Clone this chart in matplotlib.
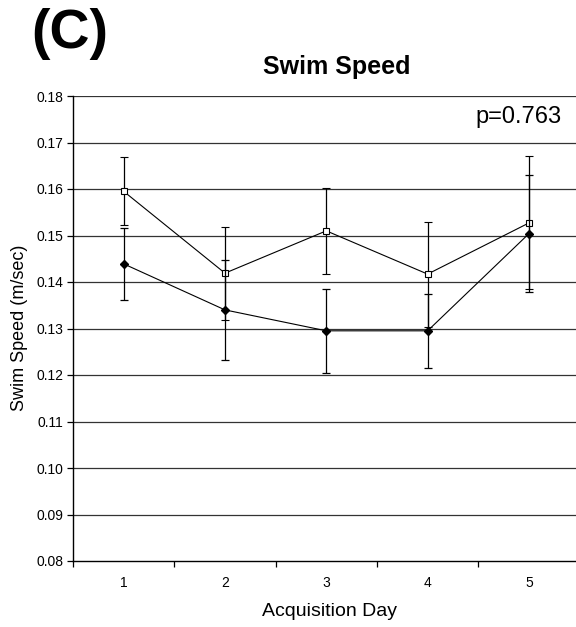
import matplotlib
matplotlib.use("Agg")
import matplotlib.pyplot as plt
from matplotlib.ticker import FixedLocator, FormatStrFormatter

plt.rcParams['font.family'] = ['Liberation Sans', 'DejaVu Sans']

# data
days = [1, 2, 3, 4, 5]
day_labels = ['1', '2', '3', '4', '5']
open_mean = [0.1595, 0.1419, 0.1510, 0.1417, 0.1527]
open_err = [0.0073, 0.0100, 0.0092, 0.0113, 0.0143]
filled_mean = [0.1439, 0.1340, 0.1295, 0.1295, 0.1504]
filled_err = [0.0077, 0.0107, 0.0090, 0.0080, 0.0126]
y_ticks = [0.08, 0.09, 0.10, 0.11, 0.12, 0.13, 0.14, 0.15, 0.16, 0.17, 0.18]

fig = plt.figure(figsize=(5.76, 6.27), dpi=100)
ax = fig.add_axes([73 / 576, 66 / 627, 506.6 / 576, 465 / 627])

# gridlines
for v in y_ticks[1:]:
    ax.axhline(v, color='#333333', lw=0.9, zorder=0)

ax.errorbar(days, open_mean, yerr=open_err, color='black', lw=0.8,
            elinewidth=0.9, capsize=3, capthick=0.9, marker='s', ms=4.5,
            mfc='white', mec='black', mew=0.8, zorder=3)
ax.errorbar(days, filled_mean, yerr=filled_err, color='black', lw=0.8,
            elinewidth=0.9, capsize=3, capthick=0.9, marker='D', ms=4,
            mfc='black', mec='black', zorder=4)

ax.set_xlim(0.5, 5.5)
ax.set_ylim(0.08, 0.18)
ax.set_yticks(y_ticks)
ax.yaxis.set_major_formatter(FormatStrFormatter('%.2f'))
ax.set_xticks(days)
ax.set_xticklabels(day_labels)
ax.xaxis.set_minor_locator(FixedLocator([0.5, 1.5, 2.5, 3.5, 4.5, 5.5]))
ax.tick_params(axis='x', which='major', length=0, pad=11, labelsize=10)
ax.tick_params(axis='x', which='minor', length=4, width=0.9, direction='out')
ax.tick_params(axis='y', length=4, width=0.9, direction='out', pad=3,
               labelsize=10)

for s in ['top', 'right']:
    ax.spines[s].set_visible(False)
for s in ['left', 'bottom']:
    ax.spines[s].set_linewidth(1.0)

fig.text(20 / 576, 1 - 328 / 627, 'Swim Speed (m/sec)', rotation=90,
         ha='center', va='center', fontsize=13)
fig.text(330 / 576, 1 - 612 / 627, 'Acquisition Day', ha='center',
         va='center', fontsize=14)
fig.text(337 / 576, 1 - 67 / 627, 'Swim Speed', ha='center', va='center',
         fontsize=18, fontweight='bold')
fig.text(70 / 576, 1 - 34 / 627, '(C)', ha='center', va='center',
         fontsize=40, fontweight='bold')
fig.text(562 / 576, 1 - 117 / 627, 'p=0.763', ha='right', va='center',
         fontsize=17)

fig.savefig('out.png', dpi=100)
